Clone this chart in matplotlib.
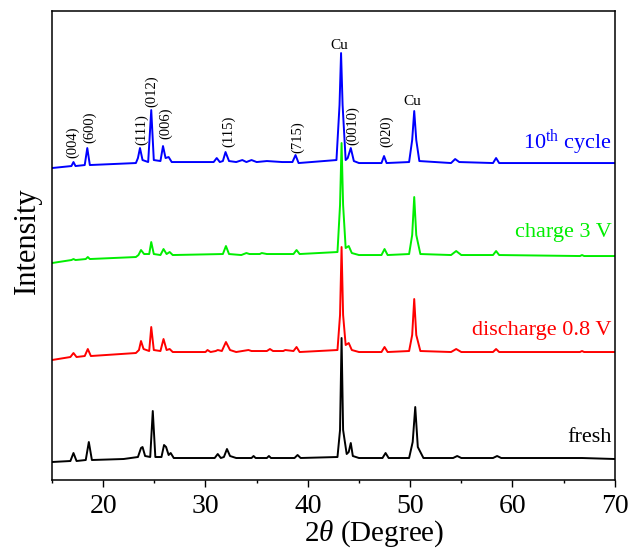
import numpy as np
from matplotlib import pyplot as plt

plt.rcParams['font.family'] = ['Liberation Serif', 'DejaVu Serif']
plt.rcParams['mathtext.fontset'] = 'custom'
plt.rcParams['mathtext.rm'] = 'Liberation Serif'
plt.rcParams['mathtext.it'] = 'Liberation Serif:italic'

# stacked XRD patterns (2theta, intensity a.u.)
fresh = [(15.0, 18), (16.8, 19), (17.1, 27), (17.4, 19), (18.3, 20), (18.6, 38), (18.9, 20),
         (22.0, 21), (23.4, 23), (23.7, 32), (23.85, 33), (24.1, 24), (24.6, 23), (24.85, 69),
         (25.1, 23), (25.7, 23), (25.95, 35), (26.15, 33), (26.4, 25), (26.6, 27), (26.9, 22),
         (30.9, 22), (31.2, 26), (31.5, 22), (31.8, 23), (32.1, 31), (32.4, 24), (33.0, 22),
         (34.5, 22), (34.7, 24), (34.9, 22), (36.0, 22), (36.2, 24), (36.4, 22), (38.7, 22),
         (39.0, 25), (39.3, 22), (42.9, 23), (43.15, 50), (43.3, 142), (43.45, 50), (43.8, 26),
         (44.0, 28), (44.2, 37), (44.4, 24), (45.0, 22), (47.3, 22), (47.6, 27), (47.9, 22),
         (49.9, 22), (50.25, 38), (50.5, 73), (50.75, 33), (51.3, 22), (54.2, 22), (54.6, 24),
         (55.0, 22), (58.1, 22), (58.5, 24), (58.9, 22), (61.0, 22), (66.8, 22), (70.0, 21)]

discharge = [(15.0, 120), (16.8, 123), (17.1, 127), (17.4, 123), (18.2, 124), (18.5, 131),
             (18.8, 124), (23.2, 127), (23.5, 130), (23.7, 139), (23.95, 131), (24.5, 129),
             (24.7, 153), (24.95, 130), (25.6, 129), (25.9, 141), (26.2, 130), (26.5, 131),
             (26.8, 128), (30.0, 128), (30.2, 130), (30.5, 128), (31.0, 129), (31.2, 130),
             (31.6, 129), (32.0, 138), (32.4, 130), (33.0, 128), (34.2, 130), (34.5, 129),
             (36.0, 129), (36.3, 131), (36.6, 129), (37.6, 129), (37.8, 130), (38.6, 129),
             (38.9, 133), (39.2, 128), (42.9, 130), (43.15, 165), (43.3, 233), (43.45, 165),
             (43.7, 135), (44.0, 137), (44.3, 130), (45.0, 128), (47.2, 128), (47.5, 133),
             (47.8, 128), (49.9, 129), (50.2, 145), (50.4, 181), (50.6, 145), (51.0, 129),
             (54.0, 128), (54.5, 131), (55.0, 128), (58.1, 128), (58.4, 131), (58.7, 128),
             (66.6, 128), (66.8, 129), (67.0, 128), (70.0, 128)]

charge = [(15.0, 217), (16.9, 220), (17.1, 221), (17.3, 220), (18.3, 221), (18.5, 223),
          (18.7, 221), (23.2, 223), (23.45, 225), (23.7, 230), (24.0, 226), (24.5, 226),
          (24.7, 238), (24.95, 226), (25.6, 225), (25.9, 231), (26.2, 226), (26.5, 228),
          (26.8, 225), (31.7, 226), (32.0, 234), (32.3, 226), (33.5, 225), (34.0, 227),
          (34.3, 226), (35.3, 226), (35.5, 227), (36.0, 226), (38.6, 226), (38.9, 230),
          (39.2, 226), (42.9, 228), (43.15, 275), (43.3, 337), (43.45, 275), (43.7, 232),
          (44.0, 234), (44.3, 227), (45.0, 225), (47.2, 225), (47.5, 231), (47.8, 225),
          (49.9, 226), (50.2, 245), (50.4, 283), (50.6, 245), (51.0, 226), (54.0, 225),
          (54.5, 229), (55.0, 225), (58.1, 225), (58.4, 229), (58.7, 225), (66.6, 224),
          (66.8, 225), (67.0, 224), (70.0, 224)]

cycle10 = [(15.0, 312), (16.9, 314), (17.1, 318), (17.3, 314), (18.2, 315), (18.45, 332),
           (18.7, 315), (23.2, 317), (23.4, 322), (23.6, 332), (23.85, 320), (24.4, 318),
           (24.7, 370), (24.95, 320), (25.6, 319), (25.85, 334), (26.1, 322), (26.4, 323),
           (26.7, 318), (30.8, 318), (31.1, 322), (31.4, 318), (31.7, 319), (31.96, 328),
           (32.3, 319), (33.0, 318), (33.6, 320), (34.0, 318), (34.5, 320), (35.0, 318),
           (36.0, 319), (37.5, 318), (38.5, 318), (38.8, 325), (39.1, 317), (42.8, 320),
           (43.1, 375), (43.25, 427), (43.4, 375), (43.7, 320), (43.9, 322), (44.2, 332),
           (44.5, 319), (45.0, 317), (47.2, 317), (47.45, 324), (47.7, 317), (49.9, 318),
           (50.2, 340), (50.4, 369), (50.6, 340), (50.9, 319), (54.0, 317), (54.4, 321),
           (54.8, 318), (58.1, 317), (58.4, 322), (58.7, 317), (70.0, 317)]

series = [fresh, discharge, charge, cycle10]
colors = ['black', '#ff0000', '#00ee00', '#0000ff']
names = ['fresh', 'discharge 0.8 V', 'charge 3 V', r'10$^{\rm th}$ cycle']
name_y = [43, 150, 248, 337]

hkl = ['(004)', '(600)', '(111)', '(012)', '(006)', '(115)', '(715)', '(0010)', '(020)']
hkl_x = [17.05, 18.7, 23.8, 24.75, 26.1, 32.3, 39.0, 44.4, 47.7]
hkl_y = [322, 337, 335, 373, 341, 333, 327, 335, 333]
cu_x = [43.1, 50.25]
cu_y = [428, 372]

fig = plt.figure(figsize=(6.41, 5.53), dpi=100)
ax = fig.add_axes((0.0811, 0.132, 0.878, 0.848))

for s, c in zip(series, colors):
    d = np.array(s).T
    ax.plot(d[0], d[1], color=c, lw=1.4)

for n, y, c in zip(names, name_y, colors):
    ax.text(69.7, y, n, color=c, fontsize=16, ha='right', va='center')

for lab, x, y in zip(hkl, hkl_x, hkl_y):
    ax.text(x, y, lab, rotation=90, fontsize=10.5, ha='center', va='bottom')
for x, y in zip(cu_x, cu_y):
    ax.text(x, y, 'Cu', fontsize=11, ha='center', va='bottom')

ax.set_xlim(15, 70)
ax.set_ylim(0, 469)
ax.set_xticks([20, 30, 40, 50, 60, 70])
ax.set_xticks(np.arange(15, 71, 5), minor=True)
ax.set_yticks([])
ax.tick_params(axis='x', which='major', direction='out', length=5, width=1, labelsize=20, pad=5)
ax.tick_params(axis='x', which='minor', direction='out', length=2.5, width=1)
for sp in ax.spines.values():
    sp.set_linewidth(1.1)

ax.set_xlabel(r'2$\it{\theta}$ (Degree)', fontsize=21)
ax.xaxis.set_label_coords(0.572, -0.082)
ax.set_ylabel('Intensity', fontsize=22)
ax.yaxis.set_label_coords(-0.018, 0.51)

plt.savefig('out.png', dpi=100)
